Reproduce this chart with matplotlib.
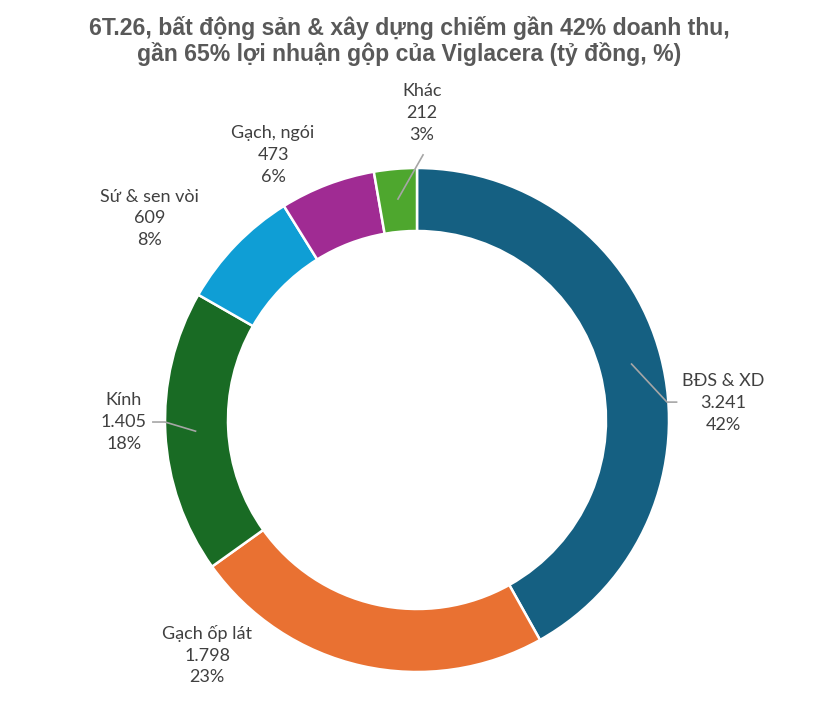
import numpy as np
import matplotlib.pyplot as plt

# Viglacera 6T.26 revenue structure (ty dong)
segments = ["BĐS & XD", "Gạch ốp lát", "Kính", "Sứ & sen vòi", "Gạch, ngói", "Khác"]
values = [3241, 1798, 1405, 609, 473, 212]
value_labels = ["3.241", "1.798", "1.405", "609", "473", "212"]
pct_labels = ["42%", "23%", "18%", "8%", "6%", "3%"]
colors = ["#156082", "#E97132", "#196B24", "#0F9ED5", "#A02B93", "#4EA72E"]

title = ("6T.26, bất động sản & xây dựng chiếm gần 42% doanh thu,\n"
         "gần 65% lợi nhuận gộp của Viglacera (tỷ đồng, %)")

# label placement (data coords, radius = 1)
label_pos = [(1.214, 0.067), (-0.833, -0.933), (-1.163, -0.008),
             (-1.06, 0.80), (-0.571, 1.052), (0.02, 1.218)]
# leader line end points, None = no leader
leader_end = [[(0.992, 0.071), (1.03, 0.071)], None,
              [(-1.0, -0.008), (-1.048, -0.008)], None, None,
              [(0.024, 1.052)]]

fig = plt.figure(figsize=(8.19, 7.09), dpi=100)
fig.text(0.4995, 0.978, title, ha="center", va="top", fontsize=16.6,
         fontweight="bold", color="#595959", family="Liberation Sans",
         linespacing=1.12)

ax = fig.add_axes([165 / 819, 37 / 709, 504 / 819, 504 / 709])
wedges, _ = ax.pie(values, colors=colors, startangle=90, counterclock=False,
                   radius=1.0,
                   wedgeprops=dict(width=0.25, edgecolor="white", linewidth=1.8))
ax.set_xlim(-1, 1)
ax.set_ylim(-1, 1)
ax.set_aspect("auto")
ax.axis("off")

total = sum(values)
cum = np.cumsum([0] + values)
for i, name in enumerate(segments):
    x, y = label_pos[i]
    ax.text(x, y, f"{name}\n{value_labels[i]}\n{pct_labels[i]}", ha="center",
            va="center", fontsize=13, color="#404040", family="Lato",
            linespacing=1.45, clip_on=False)
    if leader_end[i] is not None:
        mid = np.deg2rad(90 - (cum[i] + values[i] / 2) / total * 360)
        pts = [(0.88 * np.cos(mid), 0.88 * np.sin(mid))] + leader_end[i]
        xs, ys = zip(*pts)
        ax.plot(xs, ys, color="#A6A6A6", lw=1.2, clip_on=False)

fig.savefig("out.png", dpi=100, facecolor="white")
